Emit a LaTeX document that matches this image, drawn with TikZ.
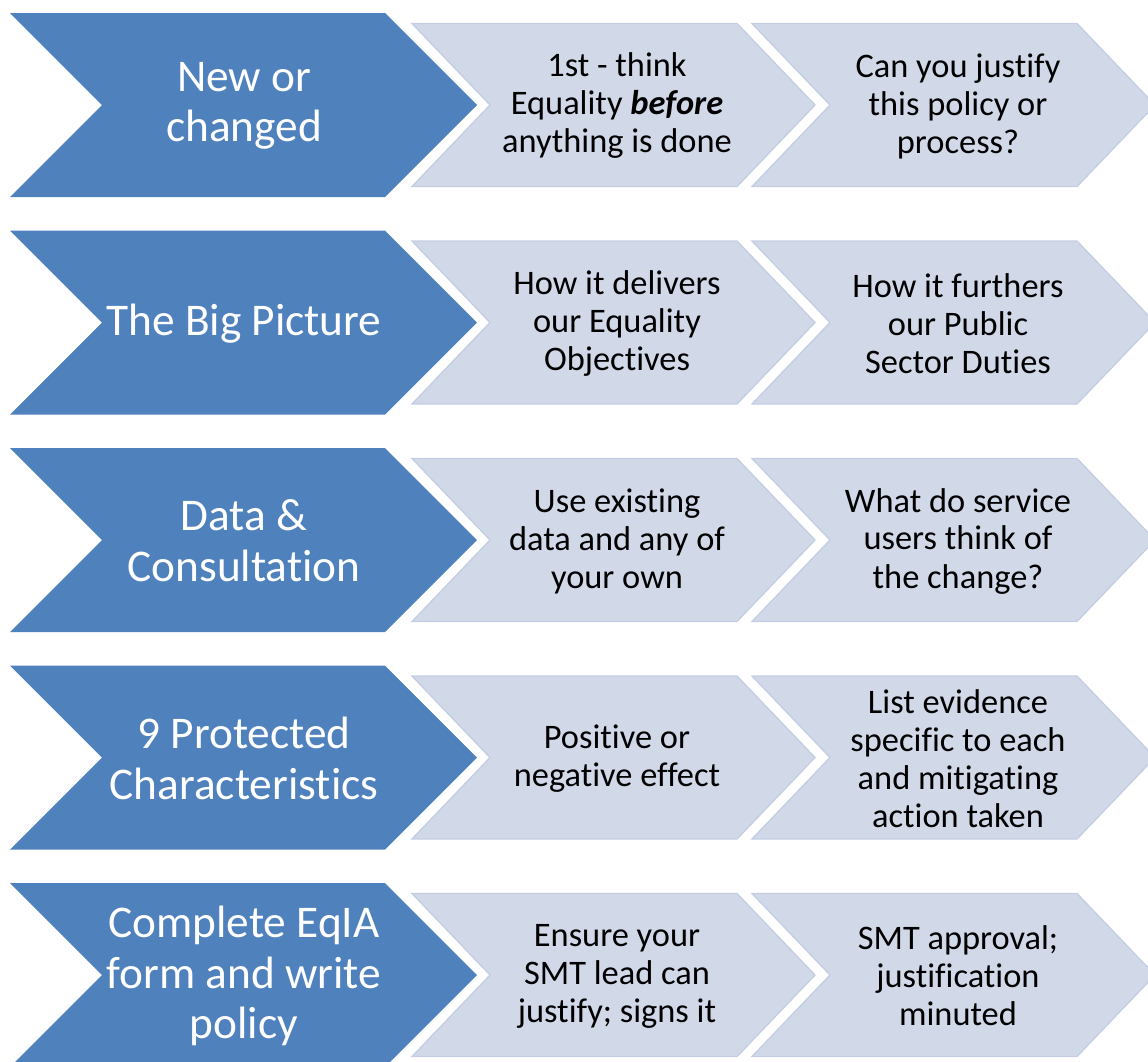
\documentclass[tikz,border=0pt]{standalone}
\usepackage{fontspec}
\setmainfont{Carlito}[Ligatures=NoCommon]

\definecolor{headblue}{HTML}{4F81BD}
\definecolor{taskfill}{HTML}{D1D9E9}
\definecolor{taskline}{HTML}{C4CEE3}

\tikzset{
	headtext/.style={text=white, align=center, font=\fontsize{34}{38}\selectfont},
	tasktext/.style={text=black, align=center, font=\fontsize{25.8}{28.5}\selectfont}
}

\begin{document}
\begin{tikzpicture}[x=0.75pt,y=-0.75pt]
	\useasboundingbox (0,0) rectangle (1148,1061);
	\clip (0,0) rectangle (1148,1061);
	% one row of chevrons every 217.5 units
	\foreach \r in {0,...,4}{
		\pgfmathsetmacro{\c}{105+217.5*\r}
		\fill[headblue] (10,\c-92) -- (385,\c-92) -- (477,\c) -- (385,\c+92) -- (10,\c+92) -- (102,\c) -- cycle;
		\foreach \x in {412,752}
		\filldraw[taskfill, draw=taskline, line width=1pt] (\x,\c-81.5) -- (\x+325,\c-81.5) -- (\x+403,\c) -- (\x+325,\c+81.5) -- (\x,\c+81.5) -- (\x+78,\c) -- cycle;
	}
	% row 1
	\node[headtext] (head1) at (244,106) {New or\\changed};
	\node[tasktext] (task1a) at (617,106) {1st - think\\Equality \textbf{\textit{before}}\\anything is done};
	\node[tasktext] (task1b) at (958,106) {Can you justify\\this policy or\\process?};
	% row 2
	\node[headtext] (head2) at (244,323.5) {The Big Picture};
	\node[tasktext] (task2a) at (617,323.5) {How it delivers\\our Equality\\Objectives};
	\node[tasktext] (task2b) at (958,323.5) {How it furthers\\our Public\\Sector Duties};
	% row 3
	\node[headtext] (head3) at (244,541) {Data \&\\Consultation};
	\node[tasktext] (task3a) at (617,541) {Use existing\\data and any of\\your own};
	\node[tasktext] (task3b) at (958,541) {What do service\\users think of\\the change?};
	% row 4
	\node[headtext] (head4) at (244,758.5) {9 Protected\\Characteristics};
	\node[tasktext] (task4a) at (617,758.5) {Positive or\\negative effect};
	\node[tasktext] (task4b) at (958,758.5) {List evidence\\specific to each\\and mitigating\\action taken};
	% row 5
	\node[headtext] (head5) at (244,976) {Complete EqIA\\form and write\\policy};
	\node[tasktext] (task5a) at (617,976) {Ensure your\\SMT lead can\\justify; signs it};
	\node[tasktext] (task5b) at (958,976) {SMT approval;\\justification\\minuted};
\end{tikzpicture}
\end{document}
